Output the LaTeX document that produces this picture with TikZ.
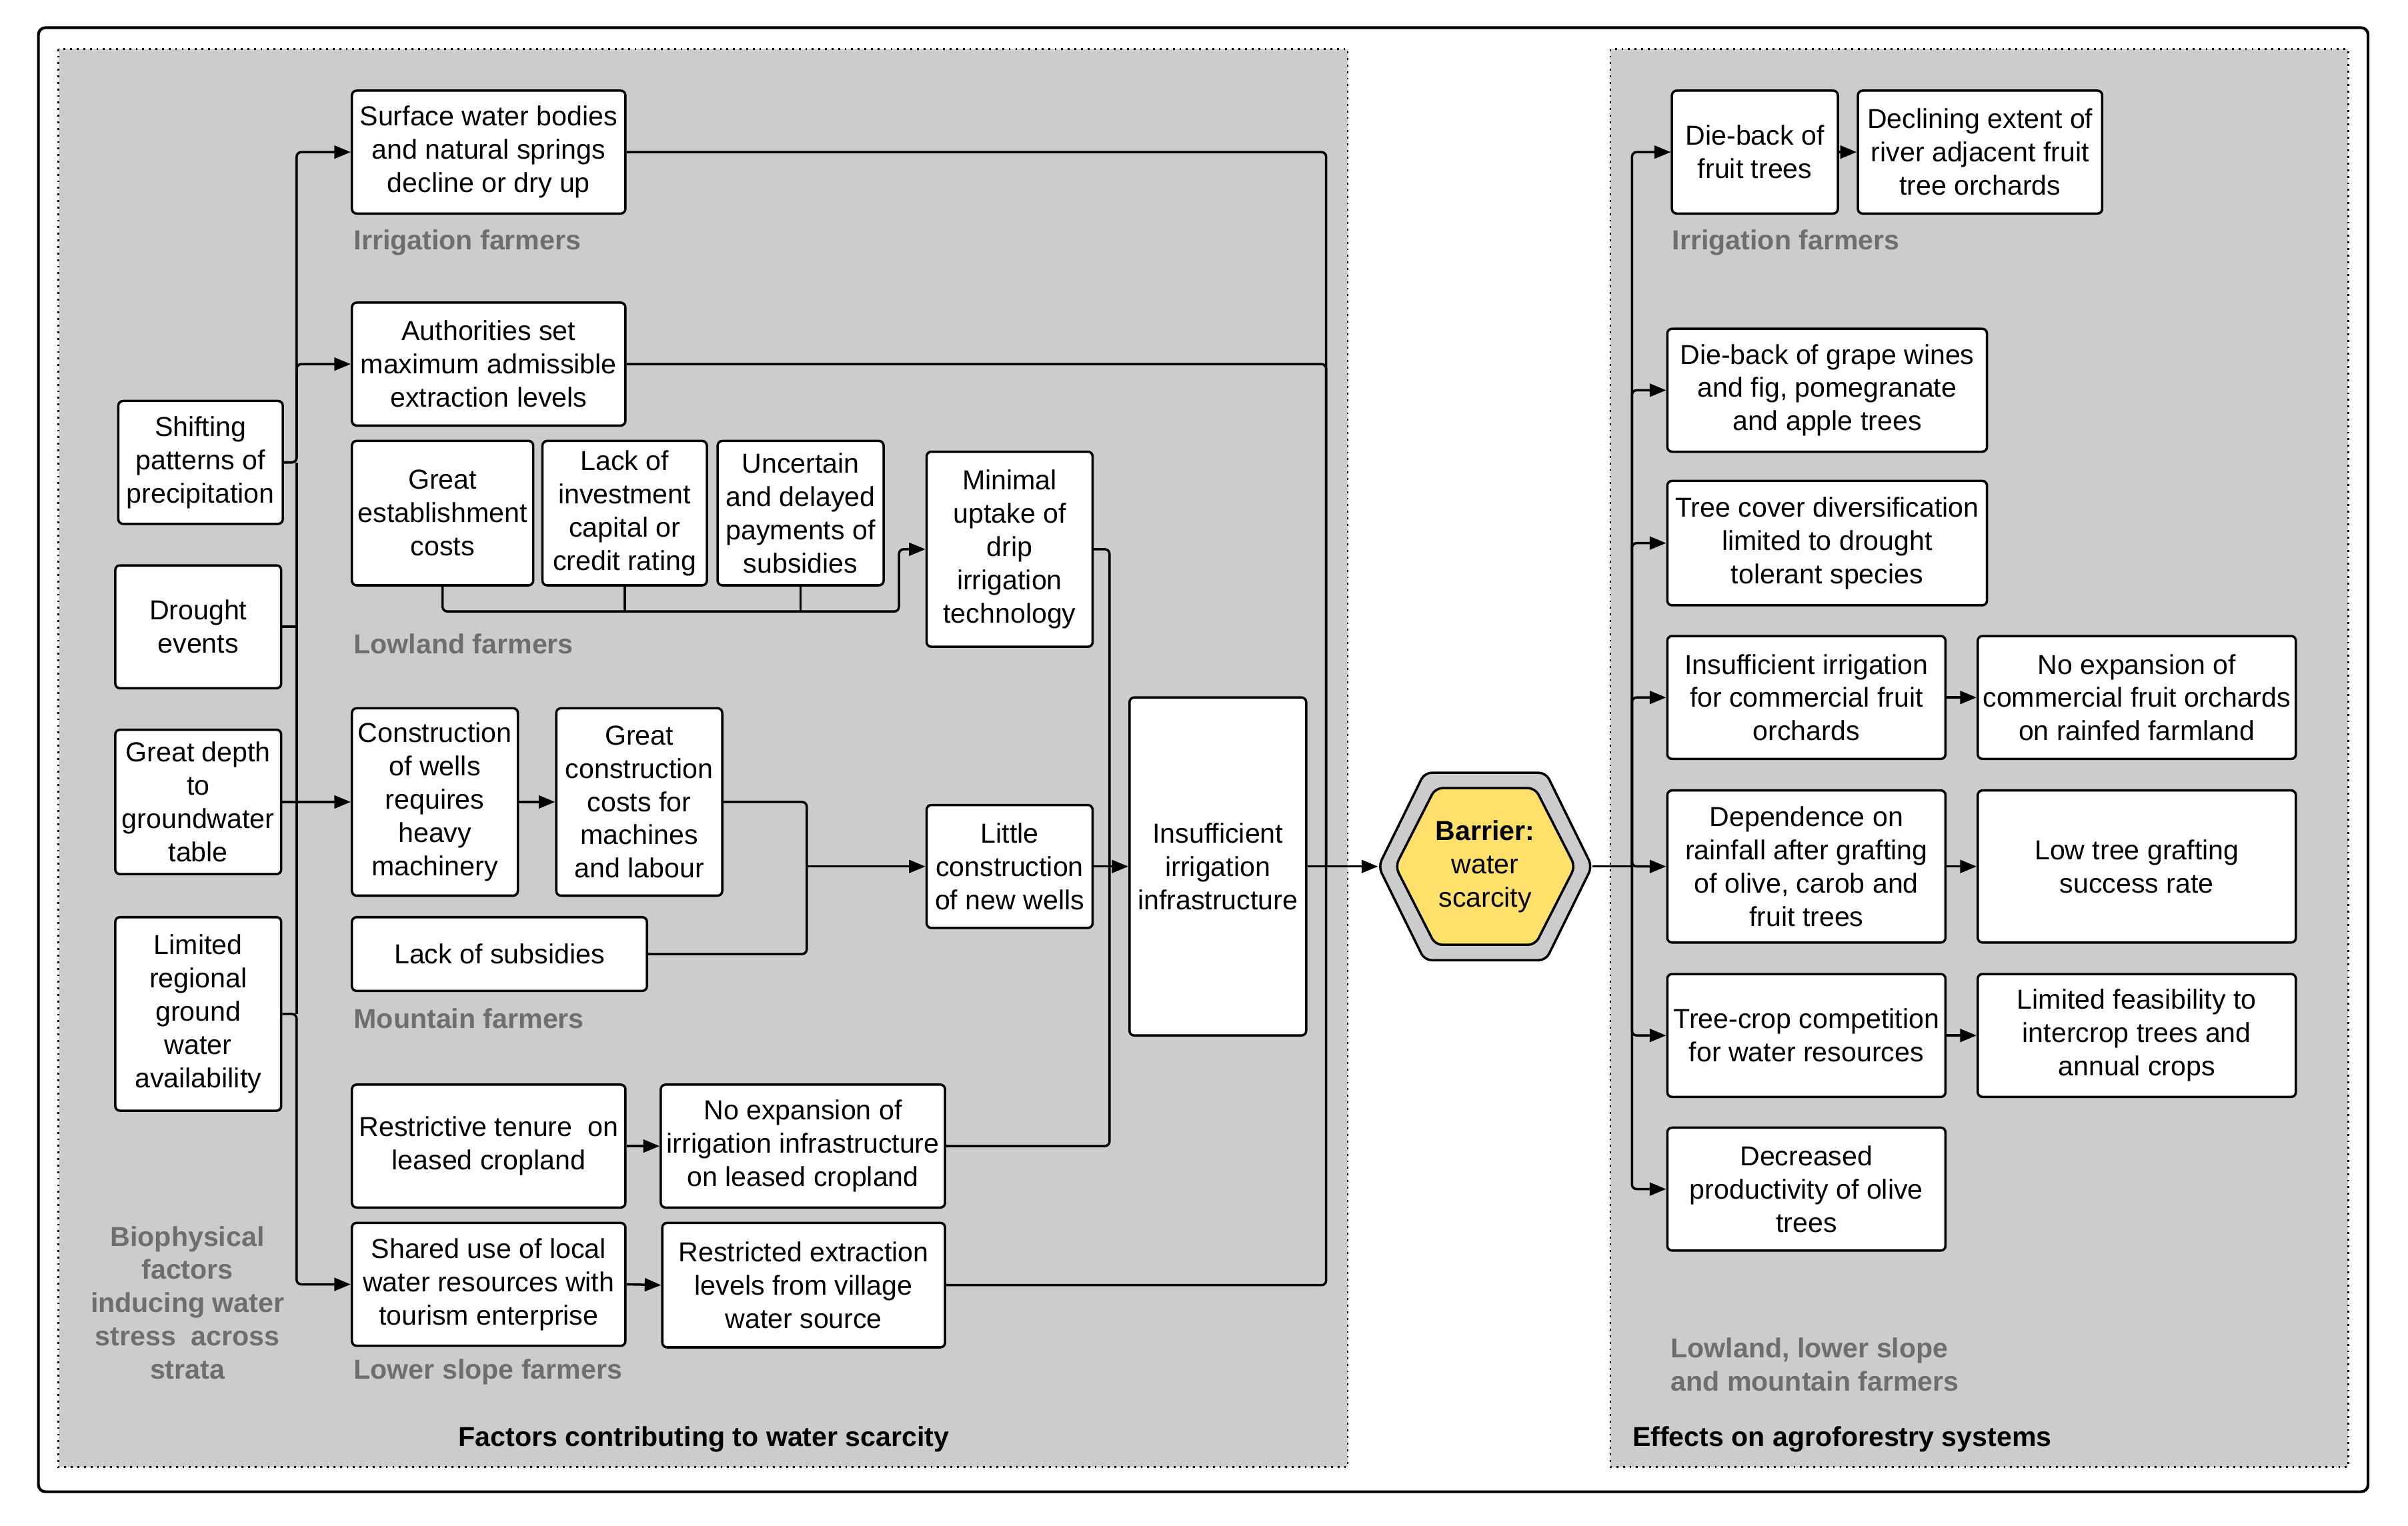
\documentclass[tikz,border=0pt]{standalone}
\usepackage{fontspec}
\setmainfont{Liberation Sans}
\usepackage{tikz}
\usetikzlibrary{arrows.meta}

\definecolor{panelgray}{HTML}{CCCCCC}
\definecolor{labelgray}{HTML}{6E6E6E}
\definecolor{hexyellow}{HTML}{FFE06A}
\newlength\unitpx
\setlength\unitpx{0.023044cm}

\begin{document}
\begin{tikzpicture}[x=\unitpx, y=-\unitpx,
    txt/.style={font=\fontsize{11.7}{14.2}\selectfont},
    box/.style={txt, draw, fill=white, line width=1pt, rounded corners=2pt,
        align=center, inner sep=1pt},
    grp/.style={txt, font=\fontsize{11.7}{14.2}\selectfont\bfseries,
        text=labelgray, anchor=west, inner sep=0pt},
    panel/.style={draw, fill=panelgray, dotted, line width=0.8pt},
    wire/.style={draw, line width=1pt, rounded corners=2pt},
    arr/.style={wire, -{Triangle[length=7pt,width=5.5pt]}}]
    \useasboundingbox (0,0) rectangle (1567,992.9);
    \draw[line width=1.2pt, rounded corners=3pt] (25,18) rectangle (1541,971);
    \draw[panel] (38,32) rectangle (877,955);
    \draw[panel] (1048,32) rectangle (1528,955);

    % biophysical factors
    \node[box, minimum width=107\unitpx, minimum height=80\unitpx] (shift) at (130.5,301) {Shifting\\patterns of\\precipitation};
    \node[box, minimum width=108\unitpx, minimum height=80\unitpx] (drought) at (129,408) {Drought\\events};
    \node[box, minimum width=108\unitpx, minimum height=94\unitpx] (depth) at (129,522) {Great depth\\to\\groundwater\\table};
    \node[box, minimum width=108\unitpx, minimum height=126\unitpx] (limit) at (129,660) {Limited\\regional\\ground\\water\\availability};
    \node[grp, anchor=center, align=center] at (122,848) {Biophysical\\factors\\inducing water\\stress~ across\\strata};

    % irrigation farmers
    \node[box, minimum width=178\unitpx, minimum height=80\unitpx] (surf) at (318,99) {Surface water bodies\\and natural springs\\decline or dry up};
    \node[grp] at (230,158) {Irrigation farmers};
    \node[box, minimum width=178\unitpx, minimum height=80\unitpx] (auth) at (318,237) {Authorities set\\maximum admissible\\extraction levels};

    % lowland farmers
    \node[box, minimum width=118\unitpx, minimum height=94\unitpx] (great) at (288,334) {Great\\establishment\\costs};
    \node[box, minimum width=107\unitpx, minimum height=94\unitpx] (lack) at (406.5,334) {Lack of\\investment\\capital or\\credit rating};
    \node[box, minimum width=108\unitpx, minimum height=94\unitpx] (uncert) at (521,334) {Uncertain\\and delayed\\payments of\\subsidies};
    \node[box, minimum width=108\unitpx, minimum height=127\unitpx] (minimal) at (657,357.5) {Minimal\\uptake of\\drip\\irrigation\\technology};
    \node[grp] at (230,419) {Lowland farmers};

    % mountain farmers
    \node[box, minimum width=108\unitpx, minimum height=122\unitpx] (cons) at (283,522) {Construction\\of wells\\requires\\heavy\\machinery};
    \node[box, minimum width=108\unitpx, minimum height=122\unitpx] (gcc) at (416,522) {Great\\construction\\costs for\\machines\\and labour};
    \node[box, minimum width=192\unitpx, minimum height=48\unitpx] (nosub) at (325,621) {Lack of subsidies};
    \node[box, minimum width=108\unitpx, minimum height=80\unitpx] (little) at (657,564) {Little\\construction\\of new wells};
    \node[grp] at (230,663) {Mountain farmers};
    \node[box, minimum width=115\unitpx, minimum height=220\unitpx] (infra) at (792.5,564) {Insufficient\\irrigation\\infrastructure};

    % lower slope farmers
    \node[box, minimum width=178\unitpx, minimum height=80\unitpx] (tenure) at (318,746) {Restrictive tenure~ on\\leased cropland};
    \node[box, minimum width=185\unitpx, minimum height=80\unitpx] (noexp) at (522.5,746) {No expansion of\\irrigation infrastructure\\on leased cropland};
    \node[box, minimum width=178\unitpx, minimum height=80\unitpx] (share) at (318,836) {Shared use of local\\water resources with\\tourism enterprise};
    \node[box, minimum width=184\unitpx, minimum height=81\unitpx] (restr) at (523,836.5) {Restricted extraction\\levels from village\\water source};
    \node[grp] at (230,893) {Lower slope farmers};
    \node[txt, font=\fontsize{11.7}{14.2}\selectfont\bfseries] at (458,937) {Factors contributing to water scarcity};

    % barrier
    \draw[fill=panelgray, line width=1pt, rounded corners=3pt] (897,564) -- (927,503) -- (1006,503) -- (1036,564) -- (1006,625) -- (927,625) -- cycle;
    \draw[fill=hexyellow, line width=1pt, rounded corners=3pt] (908,564) -- (934,513) -- (999,513) -- (1025,564) -- (999,615) -- (934,615) -- cycle;
    \node[txt, align=center, inner sep=0pt, minimum width=139\unitpx, minimum height=122\unitpx] (barrier) at (966.5,564) {\textbf{Barrier:}\\water\\scarcity};

    % effects
    \node[box, minimum width=108\unitpx, minimum height=80\unitpx] (dieF) at (1142,99) {Die-back of\\fruit trees};
    \node[box, minimum width=159\unitpx, minimum height=80\unitpx] (decl) at (1288.5,99) {Declining extent of\\river adjacent fruit\\tree orchards};
    \node[grp] at (1088,158) {Irrigation farmers};
    \node[box, minimum width=208\unitpx, minimum height=80\unitpx] (grape) at (1189,254) {Die-back of grape wines\\and fig, pomegranate\\and apple trees};
    \node[box, minimum width=208\unitpx, minimum height=81\unitpx] (cover) at (1189,353.5) {Tree cover diversification\\limited to drought\\tolerant species};
    \node[box, minimum width=181\unitpx, minimum height=80\unitpx] (insuf) at (1175.5,454) {Insufficient irrigation\\for commercial fruit\\orchards};
    \node[box, minimum width=207\unitpx, minimum height=80\unitpx] (noexpC) at (1390.5,454) {No expansion of\\commercial fruit orchards\\on rainfed farmland};
    \node[box, minimum width=181\unitpx, minimum height=99\unitpx] (depend) at (1175.5,564) {Dependence on\\rainfall after grafting\\of olive, carob and\\fruit trees};
    \node[box, minimum width=207\unitpx, minimum height=99\unitpx] (graft) at (1390.5,564) {Low tree grafting\\success rate};
    \node[box, minimum width=181\unitpx, minimum height=80\unitpx] (compet) at (1175.5,674) {Tree-crop competition\\for water resources};
    \node[box, minimum width=207\unitpx, minimum height=80\unitpx] (limfeas) at (1390.5,674) {Limited feasibility to\\intercrop trees and\\annual crops};
    \node[box, minimum width=181\unitpx, minimum height=80\unitpx] (decr) at (1175.5,774) {Decreased\\productivity of olive\\trees};
    \node[grp, align=left] at (1087,888) {Lowland, lower slope\\and mountain farmers};
    \node[txt, font=\fontsize{11.7}{14.2}\selectfont\bfseries, anchor=west, inner sep=0pt] at (1062,937) {Effects on agroforestry systems};

    % connectors
    \coordinate (bioj) at (193,522);
    \coordinate (lowj) at (585,398);
    \coordinate (mtj) at (525,564);
    \coordinate (infj) at (722,564);
    \coordinate (mainj) at (863,564);
    \coordinate (effj) at (1062,564);

    \draw[arr] (shift.east) -- (shift.east -| bioj) |- (surf.west);
    \draw[arr] (shift.east) -- (shift.east -| bioj) |- (auth.west);
    \draw[wire] (shift.east -| bioj) -- (limit.east -| bioj);
    \draw[wire] (drought.east) -- (drought.east -| bioj);
    \draw[arr] (depth.east) -- (cons.west);
    \draw[arr] (limit.east) -- (limit.east -| bioj) |- (share.west);

    \draw[arr] (great.south) |- (lowj) |- (minimal.west);
    \draw[wire] (lack.south) -- (lack.south |- lowj);
    \draw[wire] (uncert.south) -- (uncert.south |- lowj);

    \draw[arr] (cons.east) -- (gcc.west);
    \draw[wire] (gcc.east) -| (mtj);
    \draw[wire] (nosub.east) -| (mtj);
    \draw[arr] (mtj) -- (little.west);

    \draw[arr] (tenure.east) -- (noexp.west);
    \draw[arr] (share.east) -- (restr.west);

    \draw[wire] (minimal.east) -| (infj);
    \draw[wire] (noexp.east) -| (infj);
    \draw[arr] (little.east) -- (infra.west);

    \draw[wire] (surf.east) -| (mainj);
    \draw[wire] (auth.east) -| (mainj);
    \draw[wire] (restr.east) -| (mainj);
    \draw[arr] (infra.east) -- (barrier.west);

    \draw[wire] (barrier.east) -- (effj);
    \foreach \n in {dieF,grape,cover,insuf,depend,compet,decr}
        \draw[arr] (effj) |- (\n.west);
    \draw[arr] (dieF.east) -- (decl.west);
    \draw[arr] (insuf.east) -- (noexpC.west);
    \draw[arr] (depend.east) -- (graft.west);
    \draw[arr] (compet.east) -- (limfeas.west);
\end{tikzpicture}
\end{document}
